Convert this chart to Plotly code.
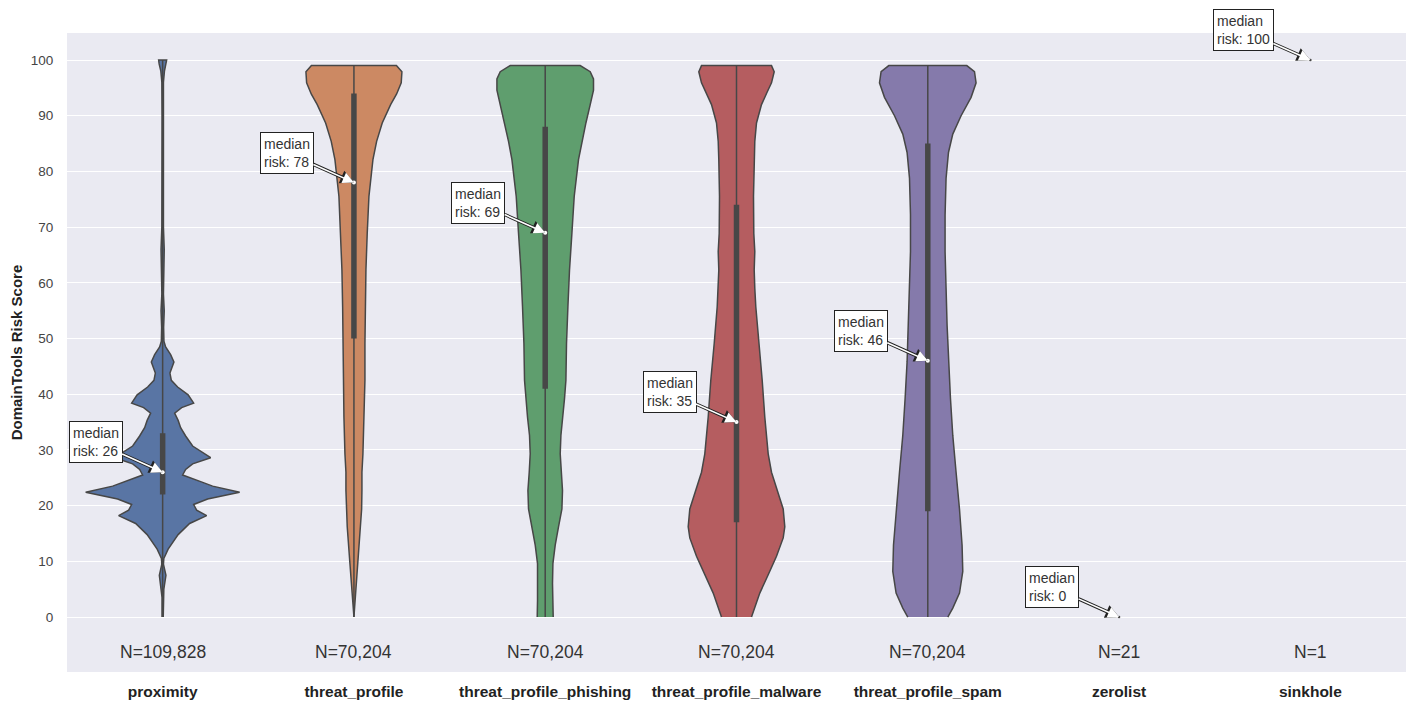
import plotly.graph_objects as go

categories = ["proximity", "threat_profile", "threat_profile_phishing",
              "threat_profile_malware", "threat_profile_spam", "zerolist", "sinkhole"]
counts = [109828, 70204, 70204, 70204, 70204, 21, 1]
medians = [26, 78, 69, 35, 46, 0, 100]
q1 = [22, 50, 41, 17, 19, 0, 100]
q3 = [33, 94, 88, 74, 85, 0, 100]
mins = [0, 0, 0, 0, 0, 0, 100]
maxs = [100, 99, 99, 99, 99, 0, 100]

# kernel density profiles (score level, relative density)
prox_y = [0, 3.5, 5, 7.5, 9.5, 10.5, 12.2, 14.8, 16.8, 18.2, 19.2, 20.2, 21.2, 22.4, 23.5, 24.3,
          25.5, 26.5, 27.5, 28.6, 29.5, 30.7, 32.5, 34, 35.3, 36.6, 37.6, 38.4, 39.9, 41.3, 42.5,
          43.8, 45.8, 47.1, 48.5, 49.5, 52, 55, 58, 62, 66, 70, 80, 90, 96, 98, 99.3, 100]
prox_d = [0.6, 0.6, 1.2, 3.3, 0.8, 1.2, 5.5, 15.5, 27, 44, 34, 31, 45, 77, 50, 38,
          20, 23, 30, 48, 40, 30, 23, 18, 15.5, 12, 19, 31, 25.5, 15, 8.7,
          7.3, 11.3, 8, 3, 1.3, 1.0, 1.6, 0.8, 1.0, 1.6, 0.8, 0.6, 0.6, 0.8, 1.8, 3.5, 4]

tp_y = [0, 4.3, 9.6, 16.2, 19.4, 22.7, 26, 29.3, 35.9, 42.5, 49.1, 55.7, 62.3, 68.9, 75.5,
        82.1, 85.4, 88.7, 92, 93.9, 95.9, 97.9, 99]
tp_d = [0, 1.7, 4, 6.7, 7.7, 8, 8, 9, 10, 11, 11, 11.3, 12, 13.3, 15,
        19, 22.7, 28.3, 36.7, 42.7, 47.3, 48, 42.5]

ph_y = [0, 3, 6, 9.6, 12.9, 16.2, 19.4, 22.7, 26, 29.3, 32.6, 35.9, 39.2, 42.5, 49.1, 55.7,
        62.3, 68.9, 75.5, 82.1, 85.4, 88.7, 92, 94.6, 96.6, 97.9, 99]
ph_d = [8, 7.7, 7.3, 7.7, 10, 13.3, 16.7, 17.3, 16, 15, 15.7, 17.7, 19.3, 20.7, 21.3, 22.7,
        24.3, 26.7, 29, 33.3, 36.7, 40.7, 45, 48.3, 48.3, 45, 35]

mw_y = [0, 4.3, 7.6, 10.9, 14.2, 16.2, 19.4, 22.7, 26, 29.3, 35.9, 42.5, 49.1, 55.7, 59,
        62.3, 65.6, 68.9, 75.5, 82.1, 85.4, 88.7, 92, 94, 95.9, 97.9, 99]
mw_d = [15, 23.3, 31.7, 40, 46.7, 48.3, 46.7, 41, 35, 31.7, 28.3, 25.7, 22.3, 19.3, 18.3,
        17.7, 18.3, 17.3, 17, 17.7, 18.3, 20, 25, 30, 35, 37.7, 35]

sp_y = [0, 1.6, 4.3, 8.2, 12.9, 19.4, 26, 32.6, 39.2, 45.8, 52.4, 59, 65.6, 72.2, 78.8,
        83.4, 86.7, 90, 93.3, 95.9, 97.9, 99]
sp_d = [20, 25, 31.7, 35, 34.3, 31.7, 28.3, 25, 22.7, 20.7, 19.3, 18.3, 17.3, 17.3, 18.3,
        20.7, 25, 33.3, 43.3, 48.3, 46.7, 39]

profiles = [(prox_y, prox_d), (tp_y, tp_d), (ph_y, ph_d), (mw_y, mw_d), (sp_y, sp_d)]
colors = ["#5975A4", "#CC8963", "#5F9E6E", "#B55D60", "#857AAB"]
EDGE = "#474747"
DSCALE = 0.4025 / 77.0   # density -> category-width units
FONT = "Liberation Sans, Arial"

fig = go.Figure()

for i, (ys, ds) in enumerate(profiles):
    xs = [i + d * DSCALE for d in ds] + [i - d * DSCALE for d in reversed(ds)]
    yy = list(ys) + list(reversed(ys))
    fig.add_trace(go.Scatter(x=xs, y=yy, mode="lines", fill="toself",
                             fillcolor=colors[i], line=dict(color=EDGE, width=1.5),
                             hoverinfo="skip", showlegend=False))

for i in range(len(categories)):
    if mins[i] != maxs[i]:
        fig.add_trace(go.Scatter(x=[i, i], y=[mins[i], maxs[i]], mode="lines",
                                 line=dict(color=EDGE, width=1.5), showlegend=False,
                                 hoverinfo="skip"))
        fig.add_trace(go.Scatter(x=[i, i], y=[q1[i], q3[i]], mode="lines",
                                 line=dict(color=EDGE, width=5.5), showlegend=False,
                                 hoverinfo="skip"))
        fig.add_trace(go.Scatter(x=[i], y=[medians[i]], mode="markers",
                                 marker=dict(color="white", size=4), showlegend=False))
    else:
        fig.add_trace(go.Scatter(x=[i], y=[medians[i]], mode="markers",
                                 marker=dict(color=EDGE, size=2.5), showlegend=False))

for i in range(len(categories)):
    label = f"median<br>risk: {medians[i]}"
    common = dict(x=i, y=medians[i], xref="x", yref="y", text=label, align="left",
                  showarrow=True, ax=-67, ay=-30, arrowhead=2,
                  bgcolor="white", bordercolor="#222222", borderwidth=1, borderpad=3,
                  font=dict(family=FONT, size=14, color="#333333"))
    # outlined arrow: dark arrow underneath, white narrower arrow on top
    fig.add_annotation(**common, arrowwidth=3.4, arrowsize=0.8, arrowcolor="#222222")
    fig.add_annotation(**common, arrowwidth=1.6, arrowsize=1.4, arrowcolor="white")
    fig.add_annotation(x=i, y=-6.3, xref="x", yref="y", text=f"N={counts[i]:,}",
                       showarrow=False,
                       font=dict(family=FONT, size=17.5, color="#333333"))

fig.update_layout(
    width=1411, height=702,
    margin=dict(l=67, r=5, t=33, b=30),
    paper_bgcolor="white", plot_bgcolor="#EAEAF2",
    font=dict(family=FONT, color="#333333"),
    showlegend=False,
    xaxis=dict(range=[-0.5, 6.5], tickvals=list(range(len(categories))),
               ticktext=[f"<b>{c}</b>" for c in categories], showgrid=False,
               zeroline=False, ticks="outside", ticklen=5, tickcolor="rgba(0,0,0,0)",
               automargin=False,
               tickfont=dict(size=15.5, color="#222222")),
    yaxis=dict(range=[-9.87, 104.85], tickvals=list(range(0, 101, 10)),
               gridcolor="white", gridwidth=1.2, zeroline=False,
               ticks="outside", ticklen=10, tickcolor="rgba(0,0,0,0)",
               automargin=False,
               tickfont=dict(size=13.5, color="#444444"),
               title=dict(text="<b>DomainTools Risk Score</b>", standoff=4,
                          font=dict(size=15, color="#222222"))),
)

fig.write_html("out.html")
